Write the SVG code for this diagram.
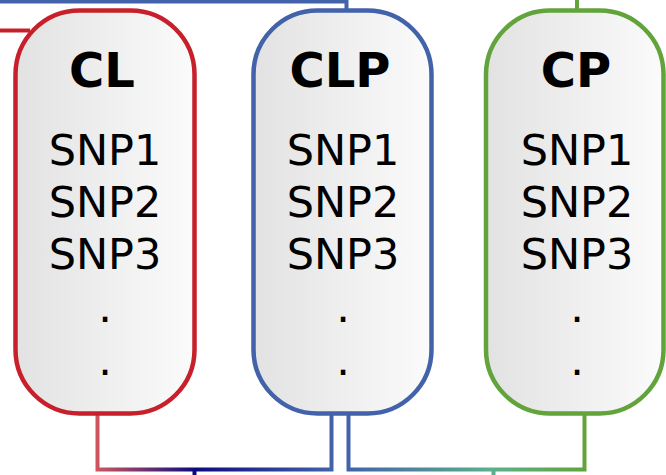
<svg xmlns="http://www.w3.org/2000/svg" width="666" height="475" viewBox="0 0 666 475">
<style>
.box{stroke-width:4.5}
.title{font-family:"DejaVu Sans",sans-serif;font-weight:bold;font-size:48px;text-anchor:middle;fill:#000}
.item{font-family:"DejaVu Sans",sans-serif;font-size:43px;text-anchor:middle;fill:#000}
.conn{fill:none;stroke-width:4}
</style>
<defs>
<linearGradient id="fill" x1="0" y1="0" x2="1" y2="0">
<stop offset="0" stop-color="#e2e2e2"/>
<stop offset="1" stop-color="#fbfbfb"/>
</linearGradient>
<linearGradient id="g1" gradientUnits="userSpaceOnUse" x1="97.5" y1="0" x2="331.5" y2="0">
<stop offset="0" stop-color="#cc5560"/>
<stop offset="0.42" stop-color="#0c0a80"/>
<stop offset="1" stop-color="#4262aa"/>
</linearGradient>
<linearGradient id="g2" gradientUnits="userSpaceOnUse" x1="348.5" y1="0" x2="584.5" y2="0">
<stop offset="0" stop-color="#4262aa"/>
<stop offset="0.61" stop-color="#5ab08c"/>
<stop offset="1" stop-color="#62a33b"/>
</linearGradient>
</defs>
<g id="connectors">
<path class="conn" d="M0,1.5 H346.5 V10" stroke="#4262aa"/>
<path class="conn" d="M0,30.5 H30" stroke="#c8202a"/>
<path class="conn" d="M577,0 V10" stroke="#62a33b"/>
<path class="conn" d="M97.5,413 V469.5 H331.5 V413" stroke="url(#g1)"/>
<path class="conn" d="M194.5,469.5 V475" stroke="#0c0a80"/>
<path class="conn" d="M348.5,413 V469.5 H584.5 V413" stroke="url(#g2)"/>
<path class="conn" d="M493.5,469.5 V475" stroke="#5ab08c"/>
</g>
<g id="CL">
<rect class="box" x="15.5" y="10.5" width="179" height="403" rx="64" ry="64" fill="url(#fill)" stroke="#c8202a"/>
<text class="title" x="102" y="87">CL</text>
<text class="item" x="105" y="165">SNP1</text>
<text class="item" x="105" y="217">SNP2</text>
<text class="item" x="105" y="269">SNP3</text>
<text class="item" x="105" y="322">.</text>
<text class="item" x="105" y="375">.</text>
</g>
<g id="CLP">
<rect class="box" x="253.5" y="10.5" width="178" height="403" rx="64" ry="64" fill="url(#fill)" stroke="#4262aa"/>
<text class="title" x="340" y="87">CLP</text>
<text class="item" x="343" y="165">SNP1</text>
<text class="item" x="343" y="217">SNP2</text>
<text class="item" x="343" y="269">SNP3</text>
<text class="item" x="343" y="322">.</text>
<text class="item" x="343" y="375">.</text>
</g>
<g id="CP">
<rect class="box" x="486" y="10.5" width="177.5" height="403" rx="64" ry="64" fill="url(#fill)" stroke="#62a33b"/>
<text class="title" x="576" y="87">CP</text>
<text class="item" x="577" y="165">SNP1</text>
<text class="item" x="577" y="217">SNP2</text>
<text class="item" x="577" y="269">SNP3</text>
<text class="item" x="577" y="322">.</text>
<text class="item" x="577" y="375">.</text>
</g>
</svg>
